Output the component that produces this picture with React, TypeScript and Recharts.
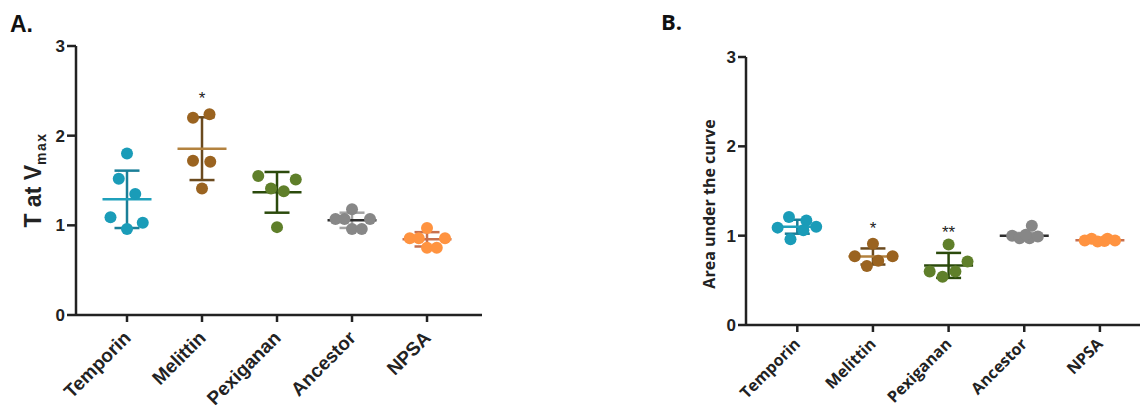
import React from "react";
import { ScatterChart, Scatter, XAxis, YAxis, ErrorBar } from "recharts";

const categories = ["Temporin", "Melittin", "Pexiganan", "Ancestor", "NPSA"];
const pointColors = ["#1a9cb8", "#9a6320", "#5f7f2a", "#878787", "#ff9340"];
const meanColors = ["#1fa0bb", "#b3823f", "#2b4a0c", "#2e2e2e", "#c8704e"];
const errColors = ["#1a7f98", "#6b4a1e", "#2b4a0c", "#a3a3a3", "#c8704e"];

// Panel A: T at Vmax — each point is [jitter within group, value]
const tmaxPoints: number[][][] = [
  [[0, 1.8], [-0.11, 1.52], [0.11, 1.35], [-0.22, 1.09], [0.21, 1.03], [0, 0.96]],
  [[-0.12, 2.2], [0.1, 2.24], [-0.12, 1.72], [0.11, 1.71], [0, 1.41]],
  [[-0.25, 1.55], [0.25, 1.51], [-0.08, 1.41], [0.09, 1.38], [0, 0.98]],
  [[0, 1.18], [-0.22, 1.07], [-0.1, 1.07], [0.24, 1.07], [0, 0.96], [0.13, 0.96]],
  [[0, 0.97], [-0.23, 0.855], [-0.11, 0.855], [0.24, 0.855], [0, 0.75], [0.13, 0.75]],
];
const tmaxMeans = [1.29, 1.855, 1.368, 1.056, 0.844];
const tmaxSd = [0.32, 0.35, 0.227, 0.085, 0.08];
const tmaxStars = [{ x: 1, y: 2.45, text: "*" }];

// Panel B: area under the curve
const aucPoints: number[][][] = [
  [[-0.11, 1.21], [0.12, 1.17], [-0.26, 1.09], [0.25, 1.1], [0.08, 1.06], [-0.09, 0.96]],
  [[0, 0.91], [-0.24, 0.77], [0.26, 0.77], [0.07, 0.72], [-0.08, 0.66]],
  [[0, 0.9], [0.25, 0.71], [-0.25, 0.6], [0.09, 0.6], [-0.08, 0.54]],
  [[-0.16, 1.0], [-0.06, 0.97], [0.07, 0.97], [0.18, 0.99], [0.02, 1.01], [0.1, 1.11]],
  [[-0.11, 0.965], [0.1, 0.965], [-0.2, 0.945], [0.2, 0.945], [-0.03, 0.935], [0.06, 0.94]],
];
const aucMeans = [1.1, 0.767, 0.667, 1.0, 0.95];
const aucSd = [0.078, 0.09, 0.14, 0.03, 0.013];
const aucStars = [{ x: 1, y: 1.12, text: "*" }, { x: 2, y: 1.07, text: "**" }];

const yTicks = [0, 1, 2, 3];
const xTicks = [0, 1, 2, 3, 4];

const axisStroke = { stroke: "#222", strokeWidth: 2.5 };
const arial = "'Liberation Sans', Arial, sans-serif";
const openSans = "'Open Sans', sans-serif";

const CatTick = (props: any) => {
  const { x, y, payload, dx, dy, font, size } = props;
  const tx = x + dx;
  const ty = y + dy;
  return (
    <text
      x={tx}
      y={ty}
      transform={`rotate(-45 ${tx} ${ty})`}
      textAnchor="end"
      fill="#222"
      fontFamily={font}
      fontSize={size}
      fontWeight={700}
    >
      {categories[payload.value]}
    </text>
  );
};

const MeanLine = (p: any) => (
  <line x1={p.cx - 24.5} x2={p.cx + 24.5} y1={p.cy} y2={p.cy} stroke={p.stroke} strokeWidth={2.5} />
);

const Dot = (p: any) => <circle cx={p.cx} cy={p.cy} r={6} fill={p.fill} />;

const Star = (p: any) => (
  <text x={p.cx} y={p.cy + 9} textAnchor="middle" fontFamily={arial} fontSize={17} fill="#222">
    {p.payload.text}
  </text>
);

interface PanelProps {
  width: number;
  height: number;
  margin: { top: number; right: number; bottom: number; left: number };
  yAxisWidth: number;
  yTickSize: number;
  xDomain: [number, number];
  points: number[][][];
  means: number[];
  sds: number[];
  stars: { x: number; y: number; text: string }[];
  tickFont: string;
  tickSize: number;
  tickDx: number;
  tickDy: number;
}

function Panel(props: PanelProps) {
  const { width, height, margin, yAxisWidth, yTickSize, xDomain, points, means, sds, stars } = props;
  return (
    <ScatterChart width={width} height={height} margin={margin}>
      <XAxis
        type="number"
        dataKey="x"
        domain={xDomain}
        ticks={xTicks}
        interval={0}
        allowDataOverflow
        height={30}
        axisLine={axisStroke}
        tickLine={axisStroke}
        tickSize={7}
        tick={<CatTick dx={props.tickDx} dy={props.tickDy} font={props.tickFont} size={props.tickSize} />}
      />
      <YAxis
        type="number"
        dataKey="y"
        domain={[0, 3]}
        ticks={yTicks}
        interval={0}
        allowDataOverflow
        width={yAxisWidth}
        axisLine={axisStroke}
        tickLine={axisStroke}
        tickSize={yTickSize}
        tickMargin={2}
        tick={{ fill: "#222", fontSize: 17, fontWeight: 700, fontFamily: arial }}
      />
      {categories.map((c, i) => (
        <Scatter
          key={"mean-" + c}
          data={[{ x: i, y: means[i], sd: sds[i] }]}
          stroke={meanColors[i]}
          shape={MeanLine}
          isAnimationActive={false}
        >
          <ErrorBar
            dataKey="sd"
            direction="y"
            width={12.5}
            stroke={errColors[i]}
            strokeWidth={2.5}
            isAnimationActive={false}
          />
        </Scatter>
      ))}
      {categories.map((c, i) => (
        <Scatter
          key={"pts-" + c}
          data={points[i].map(([dx, v]) => ({ x: i + dx, y: v }))}
          fill={pointColors[i]}
          shape={Dot}
          isAnimationActive={false}
        />
      ))}
      <Scatter data={stars} shape={Star} isAnimationActive={false} />
    </ScatterChart>
  );
}

export default function App() {
  return (
    <div style={{ position: "absolute", left: 0, top: 0, width: 1142, height: 411, background: "#fff" }}>
      <div style={{ position: "absolute", left: 0, top: 0 }}>
        <Panel
          width={560}
          height={411}
          margin={{ top: 46, right: 78, bottom: 66, left: 0 }}
          yAxisWidth={76}
          yTickSize={9}
          xDomain={[-0.68, 4.733]}
          points={tmaxPoints}
          means={tmaxMeans}
          sds={tmaxSd}
          stars={tmaxStars}
          tickFont={arial}
          tickSize={19}
          tickDx={5}
          tickDy={15}
        />
      </div>
      <div style={{ position: "absolute", left: 640, top: 0 }}>
        <Panel
          width={502}
          height={411}
          margin={{ top: 57, right: 2, bottom: 56, left: 0 }}
          yAxisWidth={106}
          yTickSize={8}
          xDomain={[-0.678, 4.53]}
          points={aucPoints}
          means={aucMeans}
          sds={aucSd}
          stars={aucStars}
          tickFont={openSans}
          tickSize={16}
          tickDx={4}
          tickDy={11}
        />
      </div>
      <svg
        width={1142}
        height={411}
        style={{ position: "absolute", left: 0, top: 0, pointerEvents: "none" }}
      >
        <text x={10} y={32} fontFamily={arial} fontSize={23} fontWeight={700} fill="#111">
          A.
        </text>
        <text
          transform="translate(41 180) rotate(-90)"
          textAnchor="middle"
          fontFamily={arial}
          fontSize={23}
          fontWeight={700}
          fill="#222"
        >
          T at V
          <tspan fontSize={14} dy={5} letterSpacing={1.5}>
            max
          </tspan>
        </text>
        <text x={661} y={30} fontFamily={openSans} fontSize={22} fontWeight={700} fill="#111">
          B.
        </text>
        <text
          transform="translate(715 204) rotate(-90)"
          textAnchor="middle"
          fontFamily={openSans}
          fontSize={16}
          fontWeight={700}
          fill="#222"
        >
          Area under the curve
        </text>
      </svg>
    </div>
  );
}
